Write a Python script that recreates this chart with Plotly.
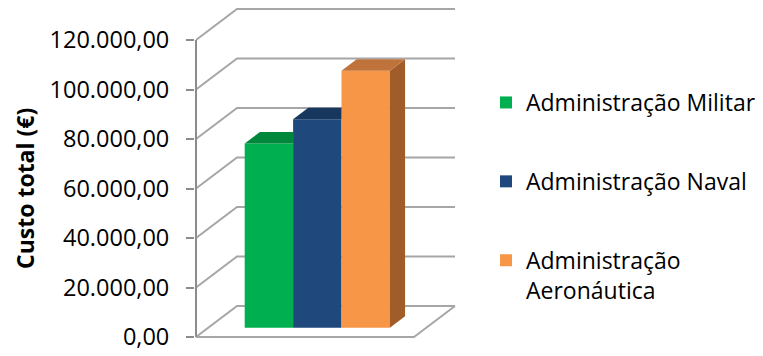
import plotly.graph_objects as go

# ---------------- data ----------------
series_names = ["Administração Militar", "Administração Naval", "Administração<br>Aeronáutica"]
values = [74400, 84200, 103800]
tick_values = [0, 20000, 40000, 60000, 80000, 100000, 120000]
tick_labels = ["0,00", "20.000,00", "40.000,00", "60.000,00", "80.000,00", "100.000,00", "120.000,00"]
y_title = "Custo total (€)"

front_colors = ["#00b050", "#1f497d", "#f79646"]
top_colors = ["#00873c", "#17375e", "#bf733a"]
side_colors = ["#008f40", "#183c66", "#a05d2a"]

# ---------------- geometry (pseudo-3D projection) ----------------
W, H = 763, 356
PLOT_L, PLOT_R = 195, 460
Y0_PX, YTOP_PX = 337, 40
VMAX = tick_values[-1]
PX_PER = (Y0_PX - YTOP_PX) / VMAX
AXIS_X = 196
FLOOR_R = 414
DX = 41
DYV = 31 / PX_PER
D0, D1 = 0.30, 0.67
BW = 48.4

YMIN = -(H - Y0_PX) / PX_PER
YMAX = Y0_PX / PX_PER


def P(x, v, d):
    return x + d * DX, v + d * DYV


GRID = "#a6a6a6"
fig = go.Figure()

# back wall / side wall gridlines
gx, gy = [], []
for v in tick_values:
    for pt in (P(AXIS_X, v, 0), P(AXIS_X, v, 1), P(FLOOR_R, v, 1)):
        gx.append(pt[0]); gy.append(pt[1])
    gx.append(None); gy.append(None)
# floor front edge and right edge
for pt in (P(AXIS_X, 0, 0), P(FLOOR_R, 0, 0), P(FLOOR_R, 0, 1)):
    gx.append(pt[0]); gy.append(pt[1])
fig.add_trace(go.Scatter(x=gx, y=gy, mode="lines", line=dict(color=GRID, width=2),
                         showlegend=False, hoverinfo="skip", xaxis="x", yaxis="y"))
# vertical axis line
fig.add_trace(go.Scatter(x=[AXIS_X, AXIS_X], y=[0, VMAX], mode="lines",
                         line=dict(color="#8c8c8c", width=2),
                         showlegend=False, hoverinfo="skip", xaxis="x", yaxis="y"))

# bars
n = len(values)
group_left = AXIS_X + (FLOOR_R - AXIS_X) / 2 - n * BW / 2
top_depth_v = (D1 - D0) * DYV
for i, v in enumerate(values):
    L = group_left + i * BW
    R = L + BW
    L0, R0 = L + D0 * DX, R + D0 * DX
    L1, R1 = L + D1 * DX, R + D1 * DX
    vf = v + D0 * DYV
    vb = v + D1 * DYV
    covered = i + 1 < n and values[i + 1] >= v + top_depth_v
    if covered:
        tx = [L0, R0, R0, L1, L0]
        ty = [vf, vf, vb, vb, vf]
    else:
        tx = [L0, R0, R1, L1, L0]
        ty = [vf, vf, vb, vb, vf]
        fig.add_trace(go.Scatter(x=[R0, R0, R1, R1, R0], y=[D0 * DYV, vf, vb, D1 * DYV, D0 * DYV],
                                 mode="none", fill="toself", fillcolor=side_colors[i],
                                 showlegend=False, hoverinfo="skip", xaxis="x2", yaxis="y2"))
    fig.add_trace(go.Scatter(x=tx, y=ty, mode="none", fill="toself", fillcolor=top_colors[i],
                             showlegend=False, hoverinfo="skip", xaxis="x2", yaxis="y2"))

for i, v in enumerate(values):
    L = group_left + i * BW
    fig.add_trace(go.Bar(x=[L + BW / 2 + D0 * DX], y=[v], base=[D0 * DYV], width=[BW],
                         name=series_names[i], legendgroup=f"g{i}",
                         marker=dict(color=front_colors[i], line=dict(width=0)),
                         xaxis="x2", yaxis="y2"))

FONT = "Open Sans"
fig.update_layout(
    width=W, height=H,
    margin=dict(l=PLOT_L, r=W - PLOT_R, t=0, b=0),
    paper_bgcolor="white", plot_bgcolor="white",
    barmode="overlay",
    font=dict(family=FONT, size=23, color="#000000"),
    xaxis=dict(range=[PLOT_L, PLOT_R], visible=False, fixedrange=True),
    xaxis2=dict(range=[PLOT_L, PLOT_R], visible=False, overlaying="x"),
    yaxis=dict(range=[YMIN, YMAX], tickvals=tick_values, ticktext=tick_labels,
               ticks="outside", ticklen=8, tickwidth=2, tickcolor="#8c8c8c",
               ticklabelstandoff=12,
               showgrid=False, zeroline=False, showline=False,
               tickfont=dict(family=FONT, size=23.5, color="#000000")),
    yaxis2=dict(range=[YMIN, YMAX], visible=False, overlaying="y"),
    showlegend=True,
    legend=dict(x=(486 - PLOT_L) / (PLOT_R - PLOT_L), xanchor="left",
                y=(H - 81) / H, yanchor="top",
                font=dict(family=FONT, size=23, color="#000000"),
                traceorder="grouped", tracegroupgap=46, valign="top",
                bgcolor="rgba(0,0,0,0)"),
    annotations=[dict(text=f"<b>{y_title}</b>", textangle=-90, showarrow=False,
                      xref="paper", yref="paper",
                      x=(25 - PLOT_L) / (PLOT_R - PLOT_L), y=(H - 189) / H,
                      xanchor="center", yanchor="middle",
                      font=dict(family=FONT, size=23, color="#000000"))],
)

fig.write_html("out.html")
